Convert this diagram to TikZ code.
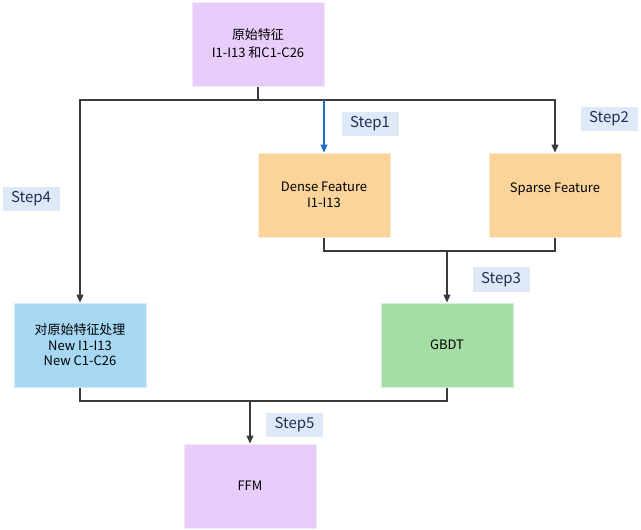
\documentclass[tikz,border=0pt]{standalone}
\usepackage{fontspec}
\setmainfont{Noto Sans CJK SC}
\usetikzlibrary{arrows.meta}
\definecolor{boxpurple}{RGB}{232,204,250}
\definecolor{boxorange}{RGB}{250,212,154}
\definecolor{boxblue}{RGB}{166,216,244}
\definecolor{boxgreen}{RGB}{164,222,164}
\definecolor{stepfill}{RGB}{222,232,246}
\definecolor{steptext}{RGB}{32,48,84}
\definecolor{linegray}{RGB}{58,58,58}
\definecolor{lineblue}{RGB}{30,110,190}

\begin{document}
\begin{tikzpicture}[
  x=1pt,y=-1pt,
  >={Stealth[length=8pt,width=7pt,inset=0pt]},
  block/.style={fill=#1,draw=#1!45!white,line width=1pt,
    minimum width=132pt,minimum height=84pt,inner sep=0pt,
    align=center,font=\fontsize{13}{15.5}\selectfont},
  steplab/.style={fill=stepfill,text=steptext,minimum width=57pt,
    minimum height=24.5pt,inner sep=0pt,font=\fontsize{15}{17}\selectfont},
  wire/.style={draw=linegray,line width=1.1pt}
]
  \useasboundingbox (0,0) rectangle (641,530);

  \node[block=boxpurple,font=\fontsize{13}{18}\selectfont] (raw) at (258,44)
    {原始特征\\I1-I13 和C1-C26};
  \node[block=boxorange] (dense) at (324,195) {Dense Feature\\I1-I13};
  \node[block=boxorange] (sparse) at (555,195) {Sparse Feature\\\mbox{}};
  \node[block=boxblue] (proc) at (80,345) {对原始特征处理\\New I1-I13\\New C1-C26};
  \node[block=boxgreen] (gbdt) at (447,345) {GBDT};
  \node[block=boxpurple] (ffm) at (250,486) {FFM};

  \coordinate (fork) at (258,100);
  \coordinate (join) at (447,251);
  \coordinate (merge) at (250,401);

  \draw[wire,->] (raw.south) |- (fork) -| (proc.north);
  \draw[wire,->] (fork) -| (sparse.north);
  \draw[wire,draw=lineblue,->] (fork -| dense.north) -- (dense.north);
  \draw[wire] (dense.south) |- (join);
  \draw[wire] (sparse.south) |- (join);
  \draw[wire,->] (join) -- (gbdt.north);
  \draw[wire] (proc.south) |- (merge);
  \draw[wire] (gbdt.south) |- (merge);
  \draw[wire,->] (merge) -- (ffm.north);

  \node[steplab] (s1) at (370,124) {Step1};
  \node[steplab] (s2) at (609,119) {Step2};
  \node[steplab] (s3) at (501,279.5) {Step3};
  \node[steplab] (s4) at (31,199) {Step4};
  \node[steplab] (s5) at (294.5,425) {Step5};
\end{tikzpicture}
\end{document}
